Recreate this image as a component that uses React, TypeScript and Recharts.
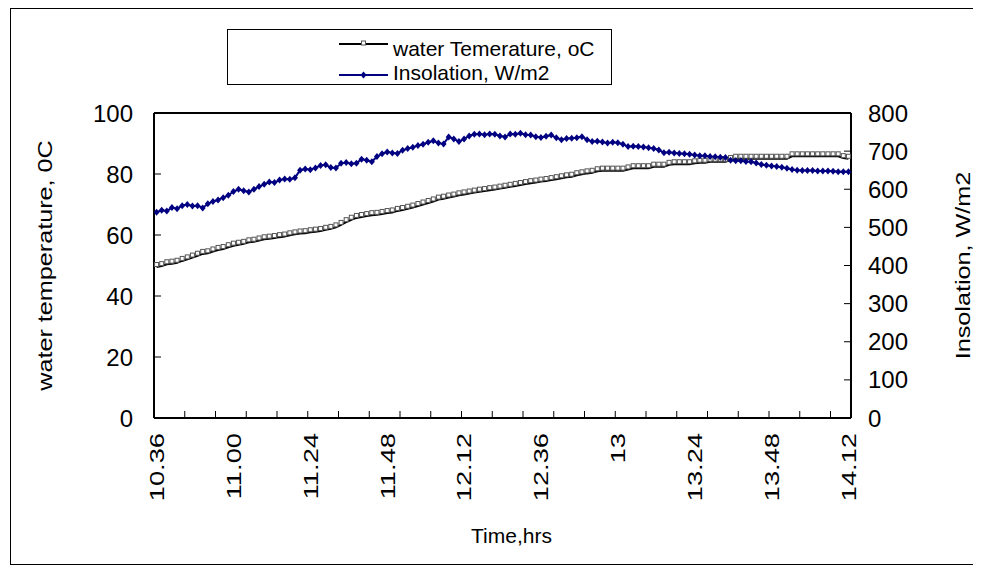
import { LineChart, Line, XAxis, YAxis, Legend, ReferenceLine } from "recharts";

// readings every slot, first slot 10.36, last 14.12
const waterTemp = [
  49.5, 49.8, 50.4, 50.6, 50.9, 51.5, 52.0, 52.6, 53.2, 53.8,
  54.0, 54.6, 55.1, 55.4, 56.0, 56.5, 56.8, 57.1, 57.6, 57.8,
  58.2, 58.6, 58.8, 59.0, 59.3, 59.5, 59.9, 60.2, 60.5, 60.6,
  60.9, 61.1, 61.3, 61.7, 62.0, 62.5, 63.3, 64.2, 65.0, 65.6,
  65.9, 66.2, 66.5, 66.6, 66.9, 67.2, 67.4, 67.9, 68.2, 68.6,
  69.0, 69.5, 70.0, 70.5, 71.0, 71.6, 71.9, 72.3, 72.6, 73.0,
  73.3, 73.6, 73.9, 74.2, 74.4, 74.7, 74.9, 75.2, 75.5, 75.8,
  76.1, 76.4, 76.7, 77.0, 77.2, 77.5, 77.7, 78.0, 78.3, 78.6,
  78.9, 79.1, 79.6, 79.9, 80.2, 80.4, 80.9, 81.1, 81.1, 81.1,
  81.1, 81.1, 81.5, 81.9, 81.9, 81.9, 81.9, 82.4, 82.4, 82.4,
  83.0, 83.2, 83.2, 83.2, 83.2, 83.5, 83.7, 83.7, 84.0, 84.0,
  84.0, 84.0, 84.6, 85.0, 85.0, 85.0, 85.0, 85.0, 85.0, 85.0,
  85.0, 85.0, 85.0, 85.0, 85.8, 85.8, 85.8, 85.8, 85.8, 85.8,
  85.8, 85.8, 85.8, 85.8, 85.2, 85.0,
];

const insolation = [
  540, 545, 543, 552, 549, 557, 560, 556, 557, 551,
  562, 568, 572, 578, 584, 594, 600, 596, 593, 600,
  607, 613, 619, 618, 624, 627, 626, 630, 650, 653,
  651, 656, 662, 664, 657, 656, 668, 670, 667, 668,
  679, 676, 672, 686, 693, 698, 695, 694, 702, 707,
  710, 715, 718, 723, 727, 721, 719, 737, 732, 725,
  732, 740, 744, 745, 743, 745, 744, 740, 737, 745,
  744, 747, 743, 742, 738, 736, 739, 742, 735, 730,
  733, 734, 735, 738, 730, 725, 726, 724, 721, 723,
  722, 718, 712, 713, 712, 711, 709, 707, 703, 696,
  697, 695, 694, 693, 692, 690, 688, 688, 686, 685,
  684, 683, 676, 675, 675, 673, 672, 669, 665, 663,
  661, 660, 658, 655, 652, 650, 649, 649, 649, 648,
  648, 648, 647, 646, 646, 646,
];

const timeLabels = ["10.36", "11.00", "11.24", "11.48", "12.12", "12.36", "13", "13.24", "13.48", "14.12"];
const labelEvery = 15;
const tickEvery = 6;

const tempTicks = [0, 20, 40, 60, 80, 100];
const sunTicks = [0, 100, 200, 300, 400, 500, 600, 700, 800];

const seriesNames = ["water Temerature, oC", "Insolation, W/m2"];

const rows = waterTemp.map((t, i) => ({ slot: i, water: t, sun: insolation[i] }));

const FONT = '"Liberation Sans", Arial, sans-serif';
const W = 963;
const H = 555;
const margin = { top: 104, right: 5, bottom: 11, left: 20 };
const leftW = 123;
const rightW = 118;
const band = (W - margin.left - margin.right - leftW - rightW) / rows.length;

function TimeTick(props: any) {
  const { x, y, payload } = props;
  const slot = Number(payload.value);
  const half = typeof payload.offset === "number" && payload.offset > 0 ? payload.offset : band / 2;
  return (
    <g>
      {slot > 0 && slot % tickEvery === 0 && (
        <line x1={x - half} x2={x - half} y1={y} y2={y - 7} stroke="#000" strokeWidth={1} />
      )}
      {slot % labelEvery === 0 && (
        <text
          transform={`translate(${x},${y + 15}) rotate(-90) scale(1.3,1)`}
          textAnchor="end"
          dominantBaseline="central"
          fontSize={21}
          fontFamily={FONT}
          fill="#000"
        >
          {timeLabels[slot / labelEvery]}
        </text>
      )}
    </g>
  );
}

// Excel draws these hollow squares sitting a little above the line
function Square(props: any) {
  const { cx, cy, index } = props;
  if (cx == null || cy == null) return <g key={`s${index}`} />;
  return <rect key={`s${index}`} x={cx - 2} y={cy - 4.5} width={4} height={4} fill="#fff" stroke="#555" strokeWidth={1} />;
}

function Diamond(props: any) {
  const { cx, cy, index } = props;
  if (cx == null || cy == null) return <g key={`d${index}`} />;
  return <polygon key={`d${index}`} points={`${cx},${cy - 3.5} ${cx + 3},${cy} ${cx},${cy + 3.5} ${cx - 3},${cy}`} fill="#000080" />;
}

function VTitle({ cx, cy, text }: { cx: number; cy: number; text: string }) {
  return (
    <text
      transform={`translate(${cx},${cy}) rotate(-90) scale(1.2,1)`}
      textAnchor="middle"
      dominantBaseline="central"
      fontSize={21}
      fontFamily={FONT}
      fill="#000"
    >
      {text}
    </text>
  );
}

function LegendBox() {
  return (
    <div
      style={{
        boxSizing: "border-box",
        width: 385,
        height: 56,
        border: "1px solid #000",
        background: "#fff",
        overflow: "hidden",
      }}
    >
      <svg width={383} height={54} style={{ display: "block" }}>
        <line x1={111} x2={160} y1={14} y2={14} stroke="#000" strokeWidth={2} />
        <rect x={133.5} y={11} width={4} height={4} fill="#fff" stroke="#555" strokeWidth={1} />
        <text x={165} y={26} fontSize={21} fontFamily={FONT} fill="#000">{seriesNames[0]}</text>
        <line x1={111} x2={160} y1={45} y2={45} stroke="#000080" strokeWidth={2} />
        <polygon points="135.5,41.5 138.5,45 135.5,48.5 132.5,45" fill="#000080" />
        <text x={165} y={50} fontSize={21} fontFamily={FONT} fill="#000">{seriesNames[1]}</text>
      </svg>
    </div>
  );
}

export default function App() {
  return (
    <div
      style={{
        position: "relative",
        width: W,
        height: H,
        marginLeft: 2,
        border: "1px solid #000",
        background: "#fff",
      }}
    >
      <LineChart width={W} height={H} data={rows} margin={margin}>
        <XAxis
          dataKey="slot"
          type="category"
          scale="band"
          height={135}
          interval={0}
          tickLine={false}
          tickSize={0}
          tickMargin={0}
          axisLine={{ stroke: "#000", strokeWidth: 2 }}
          tick={(p: any) => <TimeTick {...p} />}
          label={(p: any) => (
            <text
              x={p.viewBox.x + p.viewBox.width / 2 + 9}
              y={p.viewBox.y + 125}
              textAnchor="middle"
              fontSize={21}
              fontFamily={FONT}
              fill="#000"
            >
              Time,hrs
            </text>
          )}
        />
        <YAxis
          yAxisId="left"
          domain={[0, 100]}
          ticks={tempTicks}
          interval={0}
          width={leftW}
          tickSize={-7}
          tickMargin={28}
          axisLine={{ stroke: "#000", strokeWidth: 2 }}
          tickLine={{ stroke: "#000" }}
          tick={{ fill: "#000", fontSize: 24, fontFamily: FONT }}
          label={(p: any) => (
            <VTitle cx={p.viewBox.x + 14} cy={p.viewBox.y + p.viewBox.height / 2} text="water temperature, 0C" />
          )}
        />
        <YAxis
          yAxisId="right"
          orientation="right"
          domain={[0, 800]}
          ticks={sunTicks}
          interval={0}
          width={rightW}
          tickSize={-7}
          tickMargin={24}
          axisLine={{ stroke: "#000", strokeWidth: 2 }}
          tickLine={{ stroke: "#000" }}
          tick={{ fill: "#000", fontSize: 24, fontFamily: FONT }}
          label={(p: any) => (
            <VTitle cx={p.viewBox.x + p.viewBox.width - 6} cy={p.viewBox.y + p.viewBox.height / 2} text="Insolation, W/m2" />
          )}
        />
        <ReferenceLine yAxisId="left" y={100} stroke="#000" strokeWidth={2} />
        <Legend
          layout="horizontal"
          verticalAlign="middle"
          align="center"
          wrapperStyle={{ left: 216, top: 20, width: 385, height: 56 }}
          content={() => <LegendBox />}
        />
        <Line
          yAxisId="left"
          type="linear"
          dataKey="water"
          name={seriesNames[0]}
          stroke="#000"
          strokeWidth={2}
          dot={(p: any) => <Square {...p} />}
          activeDot={false}
          isAnimationActive={false}
        />
        <Line
          yAxisId="right"
          type="linear"
          dataKey="sun"
          name={seriesNames[1]}
          stroke="#000080"
          strokeWidth={2}
          dot={(p: any) => <Diamond {...p} />}
          activeDot={false}
          isAnimationActive={false}
        />
      </LineChart>
    </div>
  );
}
